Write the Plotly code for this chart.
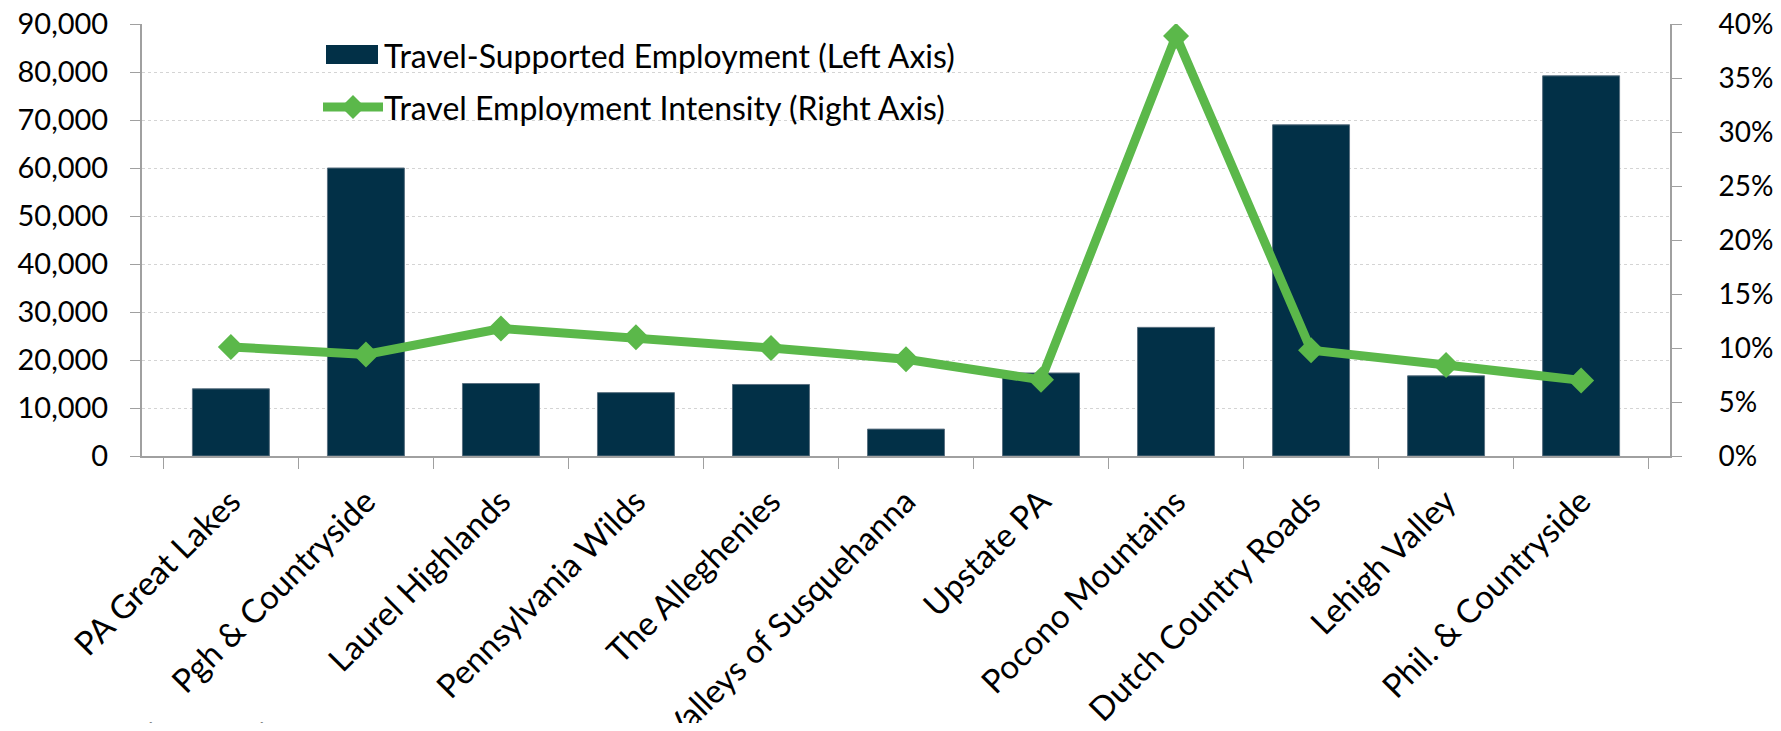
import plotly.graph_objects as go

regions = ["PA Great Lakes", "Pgh & Countryside", "Laurel Highlands", "Pennsylvania Wilds",
           "The Alleghenies", "Valleys of Susquehanna", "Upstate PA", "Pocono Mountains",
           "Dutch Country Roads", "Lehigh Valley", "Phil. & Countryside"]
employment = [14000, 60000, 15100, 13200, 14900, 5600, 17300, 26800, 69000, 16700, 79200]
intensity = [0.101, 0.094, 0.118, 0.110, 0.100, 0.0895, 0.0705, 0.389, 0.098, 0.0843, 0.070]

left_ticks = list(range(0, 90001, 10000))
right_ticks = [i * 0.05 for i in range(9)]

bar_name = "Travel-Supported Employment (Left Axis)"
line_name = "Travel Employment Intensity (Right Axis)"
source_text = "Source: Tourism Economics"

FONT = "Lato"
bar_color = "#023047"
line_color = "#5BB84A"

# page body has an 8px margin; size the figure so the page fits the window exactly
OFF = 8
WIN_W, WIN_H = 1781, 731
W, H = WIN_W - 2 * OFF, WIN_H - 2 * OFF
X0, X1, Y0, Y1 = 142, 1670, 24, 456          # plot area in window pixels
L, T = X0 - OFF, Y0 - OFF
R, B = W - (X1 - OFF), H - (Y1 - OFF)
PW, PH = X1 - X0, Y1 - Y0


def px(x):
    return (x - X0) / PW


def py(y):
    return (Y1 - y) / PH


fig = go.Figure()
fig.add_trace(go.Bar(
    x=regions, y=employment, name=bar_name,
    marker=dict(color=bar_color, line=dict(color="#5a7080", width=1)),
    yaxis="y", showlegend=False,
))
fig.add_trace(go.Scatter(
    x=regions, y=intensity, name=line_name,
    mode="lines+markers",
    line=dict(color=line_color, width=9),
    marker=dict(symbol="diamond", size=20, color=line_color),
    yaxis="y2", showlegend=False,
))

axis_common = dict(ticks="outside", tickcolor="#a0a0a0", showline=True,
                   linecolor="#a0a0a0", linewidth=2, automargin=False,
                   ticklabeloverflow="allow")

fig.update_layout(
    width=W, height=H,
    margin=dict(l=L, r=R, t=T, b=B),
    plot_bgcolor="white", paper_bgcolor="white",
    font=dict(family=FONT, size=30, color="black"),
    bargap=0.43,
    showlegend=False,
    xaxis=dict(
        type="category", tickangle=-45, tickson="boundaries", ticklen=11,
        showgrid=False, tickfont=dict(size=33, family=FONT),
        ticklabelstandoff=11, **axis_common,
    ),
    yaxis=dict(
        range=[0, 90000], tickvals=left_ticks, tickformat=",d", ticklen=10,
        showgrid=True, gridcolor="#d4d4d4", griddash="dot", gridwidth=1,
        zeroline=False, tickfont=dict(size=29, family=FONT),
        ticklabelstandoff=16, **axis_common,
    ),
    yaxis2=dict(
        range=[0, 0.4], tickvals=right_ticks, tickformat=".0%",
        overlaying="y", side="right", ticklen=10,
        showgrid=False, zeroline=False, tickfont=dict(size=28, family=FONT),
        ticklabelstandoff=31, **axis_common,
    ),
)

# manual legend (Excel-style wide swatches)
fig.add_shape(type="rect", xref="paper", yref="paper",
              x0=px(326), x1=px(378), y0=py(64), y1=py(45),
              fillcolor=bar_color, line=dict(width=0))
fig.add_shape(type="line", xref="paper", yref="paper",
              x0=px(323), x1=px(383), y0=py(107), y1=py(107),
              line=dict(color=line_color, width=9))
cx, cy, hw, hh = 353, 107, 12, 12
fig.add_shape(type="path", xref="paper", yref="paper",
              path=(f"M {px(cx - hw)},{py(cy)} L {px(cx)},{py(cy - hh)} "
                    f"L {px(cx + hw)},{py(cy)} L {px(cx)},{py(cy + hh)} Z"),
              fillcolor=line_color, line=dict(width=0))
for name, yy in [(bar_name, 55), (line_name, 107)]:
    fig.add_annotation(text=name, xref="paper", yref="paper",
                       x=px(382), y=py(yy), xanchor="left", yanchor="middle",
                       showarrow=False, font=dict(size=32, family=FONT, color="black"))

fig.add_annotation(
    text=source_text, xref="paper", yref="paper",
    x=px(32), y=py(715), xanchor="left", yanchor="top", showarrow=False,
    font=dict(size=21, color="#808080", family=FONT),
)

fig.write_html("out.html")
